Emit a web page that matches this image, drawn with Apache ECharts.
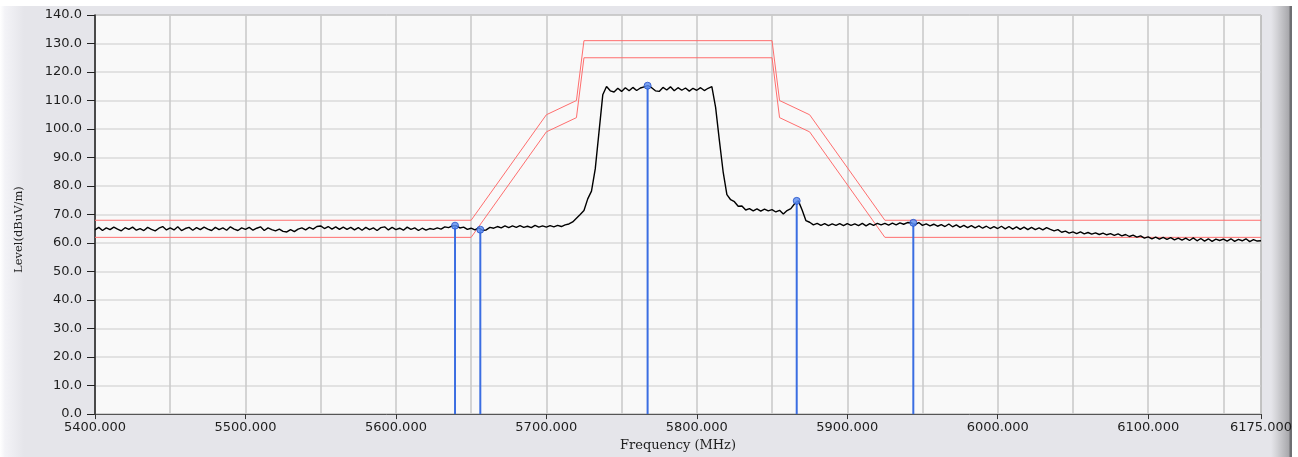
<!DOCTYPE html>
<html>
<head>
<meta charset="utf-8">
<script src="https://cdn.jsdelivr.net/npm/echarts@6/dist/echarts.min.js"></script>
<style>
  html, body { margin: 0; padding: 0; background: #fff; }
  #frame {
    position: absolute; left: 0; top: 6px; width: 1292px; height: 451px;
    background: linear-gradient(to right, #ffffff 0px, #f3f3f7 5px, #e5e5ea 24px,
      #e5e5ea 1271px, #d6d6da 1276px, #a8a8ac 1289px, #6e6e72 1290px, #6e6e72 1292px);
  }
  #chart { position: absolute; left: 0; top: 0; width: 1298px; height: 457px; }
</style>
</head>
<body>
<div id="frame"></div>
<div id="chart"></div>
<script>
// sweep 5400..6175 MHz, one reading every 2.5 MHz
const sweepStart = 5400
const sweepStep = 2.5
const traceLevels = [
  64.6, 65.5, 64.4, 65.3, 64.7, 65.6, 64.9, 64.3, 65.4, 64.8, // 5400
  65.6, 64.5, 65.1, 64.4, 65.5, 64.8, 64.3, 65.2, 65.8, 64.6, // 5425
  65.3, 64.6, 65.7, 64.4, 65.1, 65.5, 64.5, 65.4, 64.7, 65.6, // 5450
  64.9, 64.4, 65.5, 64.7, 65.3, 64.5, 65.7, 64.9, 64.4, 65.3, // 5475
  64.8, 65.5, 64.5, 65.2, 65.7, 64.4, 65.3, 64.7, 64.3, 64.9, // 5500
  64.1, 63.9, 64.7, 64.0, 64.9, 65.3, 64.6, 65.5, 64.9, 65.8, // 5525
  66.0, 65.1, 65.8, 64.9, 65.7, 64.8, 65.6, 64.8, 65.5, 64.6, // 5550
  65.4, 64.5, 65.5, 64.7, 65.3, 64.4, 65.4, 65.7, 64.6, 65.5, // 5575
  64.7, 65.2, 64.5, 65.6, 64.8, 65.3, 64.4, 65.2, 64.5, 65.1, // 5600
  64.8, 65.3, 64.9, 65.7, 65.4, 66.0, 66.1, 65.3, 65.6, 64.8, // 5625
  65.2, 64.6, 65.3, 64.5, 64.6, 65.5, 65.2, 65.8, 65.3, 66.0, // 5650
  65.4, 66.0, 65.5, 66.1, 65.5, 65.9, 65.4, 66.2, 65.6, 66.0, // 5675
  65.6, 66.1, 65.7, 66.2, 65.8, 66.4, 66.7, 67.4, 68.7, 70.0, // 5700
  71.4, 75.5, 78.2, 86.0, 99.0, 112.0, 114.9, 113.4, 113.0, 114.3, // 5725
  113.2, 114.5, 113.4, 114.6, 113.5, 114.4, 114.8, 115.2, 114.5, 113.4, // 5750
  113.2, 114.6, 113.7, 114.8, 113.4, 114.5, 113.6, 114.4, 113.3, 114.3, // 5775
  113.6, 114.5, 113.5, 114.3, 114.9, 107.6, 96.0, 85.0, 77.0, 75.2, // 5800
  74.5, 72.9, 73.0, 71.6, 72.1, 71.3, 72.0, 71.2, 71.9, 71.3, // 5825
  71.7, 70.9, 71.5, 70.2, 71.4, 72.1, 73.8, 74.8, 71.6, 67.9, // 5850
  67.3, 66.4, 66.9, 66.2, 66.8, 66.1, 66.7, 66.2, 66.8, 66.1, // 5875
  66.8, 66.2, 66.7, 66.1, 66.9, 66.0, 66.8, 66.2, 66.9, 66.4, // 5900
  66.9, 66.3, 67.0, 66.4, 67.1, 66.6, 67.2, 67.1, 66.5, 67.2, // 5925
  66.2, 66.7, 66.0, 66.6, 65.9, 66.5, 65.8, 66.7, 65.7, 66.4, // 5950
  65.5, 66.2, 65.4, 66.1, 65.3, 66.0, 65.2, 65.9, 65.1, 65.8, // 5975
  65.1, 65.9, 65.0, 65.8, 64.9, 65.7, 64.8, 65.6, 64.7, 65.5, // 6000
  64.7, 65.3, 64.6, 65.4, 64.8, 64.3, 64.7, 63.8, 64.2, 63.5, // 6025
  63.9, 63.3, 63.9, 63.2, 63.7, 63.1, 63.6, 63.0, 63.5, 62.9, // 6050
  63.3, 62.7, 63.2, 62.5, 63.0, 62.3, 62.8, 62.1, 62.5, 61.7, // 6075
  62.2, 61.5, 62.1, 61.4, 62.0, 61.3, 61.9, 61.1, 61.7, 61.0, // 6100
  61.7, 60.9, 61.8, 60.8, 61.6, 60.7, 61.5, 60.6, 61.4, 60.9, // 6125
  61.4, 60.7, 61.5, 60.6, 61.3, 60.8, 61.5, 60.5, 61.2, 60.7, // 6150
  60.8, // 6175
]

// limit masks (red)
const maskFreqs = [5400, 5650, 5700, 5720, 5725, 5850, 5855, 5875, 5925, 6175]
const maskUpper = [68, 68, 105, 110, 131, 131, 110, 105, 68, 68]
const maskLower = [62, 62, 99, 104, 125, 125, 104, 99, 62, 62]

// markers (blue)
const markerFreqs = [5639.3, 5656.1, 5767.3, 5866.4, 5943.9]
const markerLevels = [66.1, 64.7, 115.2, 74.8, 67.1]

const xLabelValues = [5400, 5500, 5600, 5700, 5800, 5900, 6000, 6100, 6175]

const blue = '#3b6ee2'
const red = '#ff6e6e'
const labelFont = { fontFamily: 'DejaVu Sans', fontSize: 13, color: '#1e1e1e' }
const titleFont = { fontFamily: 'DejaVu Serif', fontSize: 13, color: '#1e1e1e' }

const zip = (xs, ys) => xs.map((x, i) => [x, ys[i]])
const traceData = traceLevels.map((v, i) => [sweepStart + i * sweepStep, v])

const chart = echarts.init(document.getElementById('chart'), null, { renderer: 'canvas' })
chart.setOption({
  animation: false,
  backgroundColor: 'transparent',
  grid: {
    left: 95, right: 37, top: 15, bottom: 40,
    show: true, backgroundColor: '#f9f9f9', borderColor: '#555', borderWidth: 1,
  },
  xAxis: [
    {
      // labelled axis
      type: 'value',
      min: 5400, max: 6175, interval: 50,
      name: 'Frequency (MHz)', nameLocation: 'middle', nameGap: 24,
      nameTextStyle: titleFont,
      axisLine: { lineStyle: { color: '#555', width: 1 } },
      axisTick: { show: true, customValues: xLabelValues, length: 5, lineStyle: { color: '#333' } },
      axisLabel: {
        ...labelFont, margin: 7, customValues: xLabelValues,
        formatter: (v) => v.toFixed(3),
      },
      splitLine: { show: false },
      z: 2,
    },
    {
      // grid lines every 50 MHz
      type: 'value',
      min: 5400, max: 6175, interval: 50,
      position: 'bottom',
      axisLine: { show: false },
      axisTick: { show: false },
      axisLabel: { show: false },
      splitLine: { show: true, lineStyle: { color: '#cbcbcb', width: 1.6 } },
    },
  ],
  yAxis: {
    type: 'value',
    min: 0, max: 140, interval: 10,
    name: 'Level(dBuV/m)', nameLocation: 'middle', nameGap: 70, nameRotate: 90,
    nameTextStyle: { ...titleFont, fontSize: 11.5, padding: [0, 30, 0, 0] },
    axisLine: { show: true, lineStyle: { color: '#222', width: 1.5 } },
    axisTick: { show: true, inside: false, length: 8, lineStyle: { color: '#222' } },
    axisLabel: { ...labelFont, margin: 13, formatter: (v) => v.toFixed(1) },
    splitLine: { show: true, lineStyle: { color: '#dadada', width: 1.6 } },
  },
  series: [
    {
      name: 'upper', type: 'line', data: zip(maskFreqs, maskUpper),
      symbol: 'none', lineStyle: { color: red, width: 1 }, z: 3,
    },
    {
      name: 'lower', type: 'line', data: zip(maskFreqs, maskLower),
      symbol: 'none', lineStyle: { color: red, width: 1 }, z: 3,
    },
    {
      name: 'trace', type: 'line', data: traceData,
      symbol: 'none', lineStyle: { color: '#000', width: 1.4 }, z: 4,
    },
    {
      name: 'markerLines', type: 'bar', data: zip(markerFreqs, markerLevels),
      barWidth: 2, itemStyle: { color: blue }, z: 5,
    },
    {
      name: 'markers', type: 'scatter', data: zip(markerFreqs, markerLevels),
      symbol: 'circle', symbolSize: 7,
      itemStyle: { color: '#5b8cf0', borderColor: '#2350c8', borderWidth: 1 }, z: 6,
    },
  ],
})
</script>
</body>
</html>
